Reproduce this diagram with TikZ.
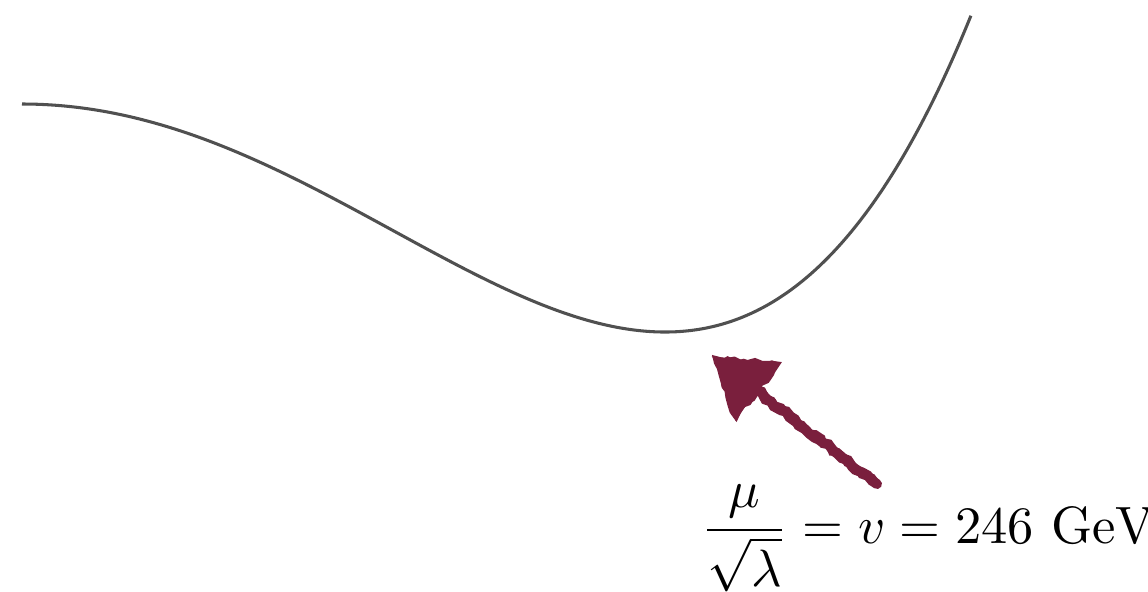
\documentclass[tikz,border=0pt]{standalone}
\usetikzlibrary{decorations.pathmorphing,calc}
\definecolor{maroon}{RGB}{122,31,61}
\definecolor{curvegray}{RGB}{80,80,80}
\tikzset{
  rough/.style={decorate,decoration={random steps,segment length=1.1pt,amplitude=0.4pt}},
  potential/.style={draw=curvegray,line width=0.55pt},
  shaft/.style={draw=maroon,line width=1.8pt,line cap=round,rough},
  headfill/.style={fill=maroon,draw=maroon,line width=0.8pt,rough}
}
\begin{document}
\pgfmathsetseed{7}
\begin{tikzpicture}[x=0.18pt,y=-0.18pt]
\useasboundingbox (0,0) rectangle (1148,591);
% potential curve
\draw[potential] plot[domain=0:1.478,samples=200,smooth] ({22+643*\x},{104-228*(\x*\x*\x*\x-2*\x*\x)});
% arrow
\coordinate (tail) at (877,484);
\coordinate (tip) at (715,358);
\coordinate (hb) at ($(tip)!0.26!(tail)$);
\coordinate (c1) at ($(hb)!0.64!90:(tip)$);
\coordinate (c2) at ($(hb)!0.64!-90:(tip)$);
\path[shaft] (tail) -- (hb);
\path[shaft,line width=1.4pt] (tail) -- (hb);
\path[headfill] (tip) -- (c1) -- (c2) -- cycle;
\path[headfill,line width=0.5pt] (tip) -- (c1) -- (c2) -- cycle;
% label
\node[anchor=base west,inner sep=0pt,scale=0.945] (lbl) at (700,543) {$\displaystyle \frac{\mu}{\sqrt{\lambda}} = v = 246\ \mathrm{GeV}$};
\end{tikzpicture}
\end{document}
